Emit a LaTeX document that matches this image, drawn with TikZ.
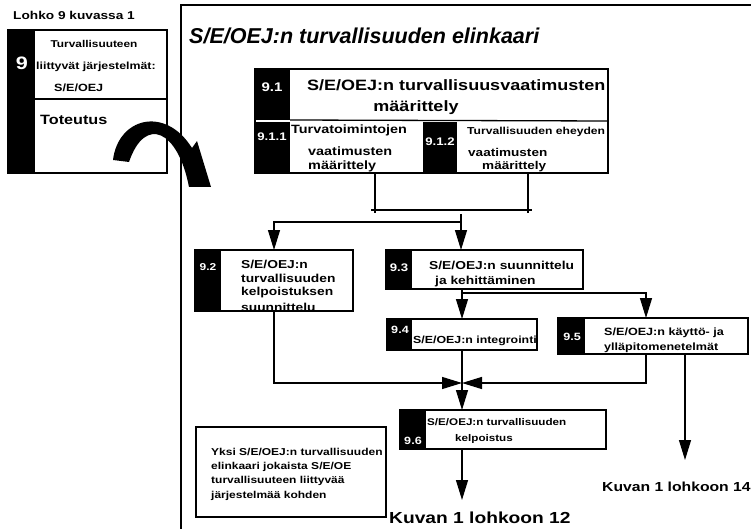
\documentclass[tikz,border=0pt]{standalone}
\usepackage{fontspec}
\setmainfont{Liberation Sans}[FakeStretch=1.2]
\newfontfamily\headfont{Liberation Sans}
\usetikzlibrary{arrows.meta}
\newcommand\fz[1]{\fontsize{#1}{#1}\selectfont\bfseries}
% a rectangular node given by its left, top, right and bottom edges
\newcommand\rectnode[6]{\node[#6,minimum width={#4-#2},minimum height={#5-#3}] (#1) at ({(#2+#4)/2},{(#3+#5)/2}) {};}
\begin{document}
\begin{tikzpicture}[x=1pt,y=-1pt,
  panel/.style={draw,line width=1.3pt,inner sep=0pt,outer sep=0pt},
  tag/.style={fill=black,draw=none,inner sep=0pt,outer sep=0pt},
  area/.style={inner sep=0pt,outer sep=0pt},
  txt/.style={inner sep=0pt,anchor=west,font=\fz{#1}},
  ctxt/.style={inner sep=0pt,font=\fz{#1}},
  num/.style={inner sep=0pt,text=white,font=\fz{#1}},
  link/.style={line width=1.3pt},
  arr/.style={link,-{Triangle[length=20pt,width=12pt]}}]
\useasboundingbox (0,0) rectangle (751,529);
\clip (0,0) rectangle (751,529);
\fill[white] (0,0) rectangle (751,529);

% ---- block 9 on the left ----
\node[txt=11.4] (lohko) at (13,15) {Lohko 9 kuvassa 1};
\rectnode{lefttag}{8}{30}{35}{173}{tag}
\rectnode{leftbox}{8}{30}{167}{173}{panel}
\coordinate (divy) at (0,99);
\draw[link] (lefttag.east |- divy) -- (leftbox.east |- divy);
\node[num=18] (n9) at (22,63) {9};
\node[ctxt=9.9] (l1) at (94,44) {Turvallisuuteen};
\node[txt=10.3] (l2) at (36,67) {liittyvät järjestelmät:};
\node[txt=10.5] (l3) at (54,88) {S/E/OEJ};
\node[txt=13.5] (l4) at (40,120) {Toteutus};

% ---- outer frame and title ----
\draw[line width=2pt] (181,560) -- (181,5) -- (780,5);
\node[inner sep=0pt,anchor=west,font=\headfont\fontsize{21.5}{21.5}\selectfont\bfseries\itshape] (title) at (189,36) {S/E/OEJ:n turvallisuuden elinkaari};

% ---- curved hand-over arrow ----
\fill (113,160) .. controls (118,118) and (165,105) .. (192,148) -- (197,141) -- (211,187) -- (189,187)
  .. controls (178,130) and (145,115) .. (129,162) -- cycle;

% ---- 9.1 requirements block ----
\rectnode{t91}{255}{69}{290}{120}{tag}
\rectnode{t911}{255}{122}{290}{173}{tag}
\rectnode{t912}{423}{122}{457}{173}{tag}
\rectnode{p91}{255}{69}{608}{173}{panel}
\rectnode{b911}{290}{121}{423}{173}{area}
\rectnode{b912}{457}{121}{608}{173}{area}
\draw[link] (t91.south east) -- (b912.north east);
\node[num=12.5] (n91) at (272,87) {9.1};
\node[txt=15] (h91a) at (307,85) {S/E/OEJ:n turvallisuusvaatimusten};
\node[ctxt=15] (h91b) at (416,108) {määrittely};
\node[num=11] (n911) at (272,137) {9.1.1};
\node[txt=12] (s1a) at (291,130) {Turvatoimintojen};
\node[txt=12] (s1b) at (308,151) {vaatimusten};
\node[txt=12] (s1c) at (308,166) {määrittely};
\node[num=11] (n912) at (440,142) {9.1.2};
\node[txt=10.1] (s2a) at (467,132) {Turvallisuuden eheyden};
\node[txt=11.3] (s2b) at (468,152) {vaatimusten};
\node[txt=11.3] (s2c) at (482,167) {määrittely};

% ---- 9.2 .. 9.6 ----
\rectnode{t92}{195}{250}{221}{311}{tag}
\rectnode{p92}{195}{250}{353}{311}{panel}
\node[num=10] (n92) at (208,267) {9.2};
\node[txt=11.5] (q1) at (241,264) {S/E/OEJ:n};
\node[txt=11.5] (q2) at (241,278) {turvallisuuden};
\node[txt=11.5] (q3) at (241,293) {kelpoistuksen};
\node[txt=11.5] (q4) at (241,307) {suunnittelu};

\rectnode{t93}{386}{250}{412}{289}{tag}
\rectnode{p93}{386}{250}{583}{289}{panel}
\node[num=11] (n93) at (399,268) {9.3};
\node[txt=11.5] (r1) at (429,265) {S/E/OEJ:n suunnittelu};
\node[txt=11.5] (r2) at (435,282) {ja kehittäminen};

\rectnode{t94}{387}{319}{412}{350}{tag}
\rectnode{p94}{387}{319}{537}{350}{panel}
\node[num=10.5] (n94) at (400,330) {9.4};
\node[txt=10.3] (u1) at (413,341) {S/E/OEJ:n integrointi};

\rectnode{t95}{558}{318}{585}{354}{tag}
\rectnode{p95}{558}{318}{748}{354}{panel}
\node[num=10.5] (n95) at (572,337) {9.5};
\node[txt=10.5] (v1) at (604,333) {S/E/OEJ:n käyttö- ja};
\node[txt=10.5] (v2) at (604,348) {ylläpitomenetelmät};

\rectnode{t96}{400}{410}{426}{449}{tag}
\rectnode{p96}{400}{410}{606}{449}{panel}
\node[num=10.5] (n96) at (413,441) {9.6};
\node[txt=9.7] (w1) at (427,422) {S/E/OEJ:n turvallisuuden};
\node[txt=9.7] (w2) at (455,439) {kelpoistus};

% ---- note box ----
\rectnode{note}{196}{427}{386}{517}{panel}
\node[txt=10] (k1) at (211,452) {Yksi S/E/OEJ:n turvallisuuden};
\node[txt=10] (k2) at (211,467) {elinkaari jokaista S/E/OE};
\node[txt=10] (k3) at (211,481) {turvallisuuteen liittyvää};
\node[txt=10] (k4) at (211,496) {järjestelmää kohden};

% ---- exits ----
\node[txt=16] (to12) at (389,518) {Kuvan 1 lohkoon 12};
\node[txt=13.1] (to14) at (602,487) {Kuvan 1 lohkoon 14};

% ---- connectors ----
\coordinate (j1) at (375,213);
\coordinate (j2) at (528,213);
\coordinate (barL) at (371,210);
\coordinate (barR) at (532,210);
\coordinate (split) at (461,214);
\coordinate (elbow) at (461,222);
\draw[link] (b911.south -| j1) -- (j1);
\draw[link] (b912.south -| j2) -- (j2);
\draw[link] (barL) -- (barR);
\draw[arr] (split) -- (p93.north -| split);
\draw[arr] (elbow) -| (p92.north);

\coordinate (fork) at (462,293);
\coordinate (drop5) at (646,293);
\draw[arr] (p93.south -| p94.north) -- (p94.north);
\draw[arr] (fork) -- (drop5) -- (drop5 |- p95.north);

\coordinate (merge) at (462,383);
\draw[arr] (p92.south) |- (merge);
\draw[arr] (p95.south -| drop5) |- (merge);
\draw[arr] (p94.south) -- (p96.north -| p94.south);

\coordinate (end12) at (462,500);
\coordinate (end14) at (685,460);
\draw[arr] (p96.south -| end12) -- (end12);
\draw[arr] (p95.south -| end14) -- (end14);
\end{tikzpicture}
\end{document}
